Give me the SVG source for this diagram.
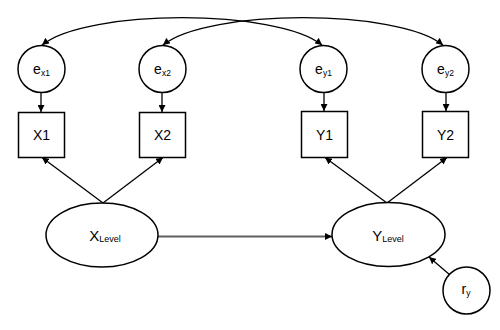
<svg xmlns="http://www.w3.org/2000/svg" width="500" height="330" viewBox="0 0 500 330">
<defs>
<marker id="ah" viewBox="0 0 10 10" refX="10" refY="5" markerWidth="7" markerHeight="7" markerUnits="userSpaceOnUse" orient="auto-start-reverse">
<path d="M0,0 L10,5 L0,10 z" fill="#000"/>
</marker>
<marker id="ahg" viewBox="0 0 10 10" refX="10" refY="5" markerWidth="7" markerHeight="7" markerUnits="userSpaceOnUse" orient="auto">
<path d="M0,0 L10,5 L0,10 z" fill="#000"/>
</marker>
<style>
.n{fill:#fff;stroke:#000;stroke-width:1.5}
.c{fill:none;stroke:#000;stroke-width:1.3}
.t{font-family:"Liberation Sans",Arial,sans-serif;fill:#000;text-anchor:middle}
.m{font-size:14px}
.s{font-size:8.5px}
</style>
</defs>
<g id="connectors">
<path class="c" d="M42,45 C87,8.6 277,8.6 322,45" marker-start="url(#ah)" marker-end="url(#ah)"/>
<path class="c" d="M163,45 C208,8.6 398,8.6 443,45" marker-start="url(#ah)" marker-end="url(#ah)"/>
<line class="c" x1="41" y1="93" x2="41" y2="112" marker-end="url(#ah)"/>
<line class="c" x1="162" y1="93" x2="162" y2="112" marker-end="url(#ah)"/>
<line class="c" x1="324" y1="93" x2="324" y2="111" marker-end="url(#ah)"/>
<line class="c" x1="446" y1="93" x2="446" y2="111" marker-end="url(#ah)"/>
<line class="c" x1="103" y1="203" x2="42" y2="157.5" marker-end="url(#ah)"/>
<line class="c" x1="103" y1="203" x2="163" y2="157.5" marker-end="url(#ah)"/>
<line class="c" x1="387" y1="203" x2="325" y2="157.5" marker-end="url(#ah)"/>
<line class="c" x1="387" y1="203" x2="447" y2="157.5" marker-end="url(#ah)"/>
<line x1="158" y1="236.5" x2="332" y2="236.5" stroke="#5e5e5e" stroke-width="2" marker-end="url(#ahg)"/>
<line class="c" x1="450" y1="275" x2="429" y2="257" stroke-width="1.6" marker-end="url(#ah)"/>
</g>
<g id="ex1"><circle class="n" cx="41.5" cy="69" r="23.5"/><text class="t m" x="41.5" y="74">e<tspan class="s" dy="1.5">x1</tspan></text></g>
<g id="ex2"><circle class="n" cx="162.5" cy="69" r="23.5"/><text class="t m" x="162.5" y="74">e<tspan class="s" dy="1.5">x2</tspan></text></g>
<g id="ey1"><circle class="n" cx="323.5" cy="69" r="23.5"/><text class="t m" x="323.5" y="74">e<tspan class="s" dy="1.5">y1</tspan></text></g>
<g id="ey2"><circle class="n" cx="445.5" cy="69" r="23.5"/><text class="t m" x="445.5" y="74">e<tspan class="s" dy="1.5">y2</tspan></text></g>
<g id="X1"><rect class="n" x="18.5" y="112.5" width="46" height="45"/><text class="t m" x="41.5" y="140">X1</text></g>
<g id="X2"><rect class="n" x="139.5" y="112.5" width="46" height="45"/><text class="t m" x="162.5" y="140">X2</text></g>
<g id="Y1"><rect class="n" x="301.5" y="111.5" width="46" height="46"/><text class="t m" x="324.5" y="140">Y1</text></g>
<g id="Y2"><rect class="n" x="422.5" y="111.5" width="46" height="46"/><text class="t m" x="445.5" y="140">Y2</text></g>
<g id="XLevel"><ellipse class="n" cx="102" cy="235" rx="56" ry="32"/><text class="t" x="105" y="240.5" font-size="15">X<tspan font-size="9" dy="1.5">Level</tspan></text></g>
<g id="YLevel"><ellipse class="n" cx="388.5" cy="234.5" rx="56.5" ry="32"/><text class="t" x="388" y="240.5" font-size="15">Y<tspan font-size="9" dy="1.5">Level</tspan></text></g>
<g id="ry"><circle class="n" cx="466.5" cy="290.5" r="23.5"/><text class="t m" x="466" y="293.5">r<tspan class="s" dy="2">y</tspan></text></g>
</svg>
